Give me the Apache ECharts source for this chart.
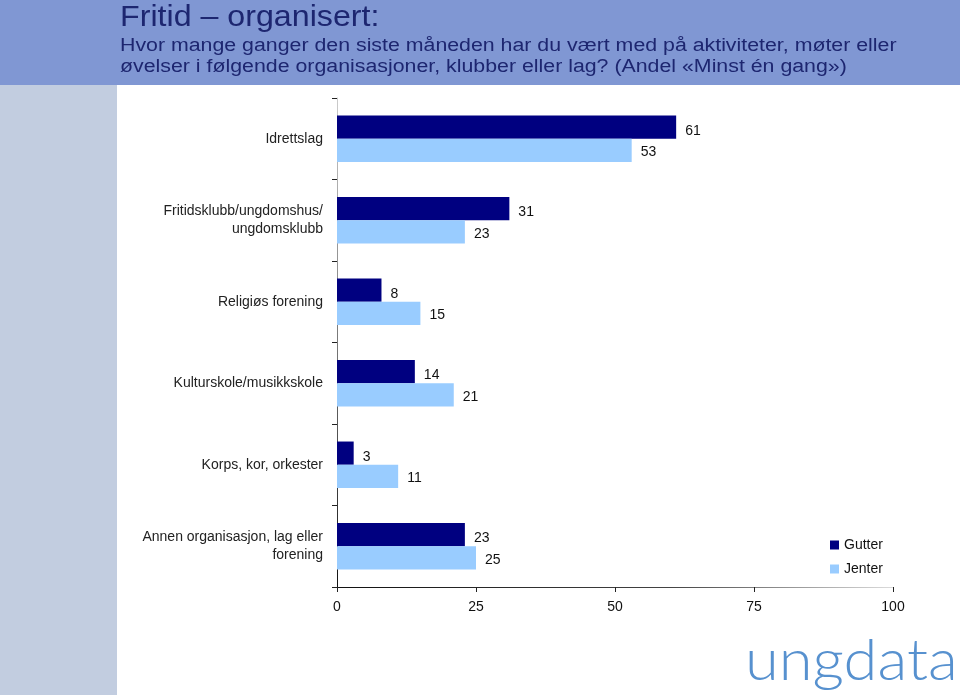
<!DOCTYPE html>
<html>
<head>
<meta charset="utf-8">
<script src="https://cdn.jsdelivr.net/npm/echarts@6/dist/echarts.min.js"></script>
<style>html,body{margin:0;padding:0;background:#fff}#c{width:960px;height:695px}</style>
</head>
<body>
<div id="c"></div>
<script>
const categories = ['Idrettslag', 'Fritidsklubb/ungdomshus/\nungdomsklubb', 'Religiøs forening', 'Kulturskole/musikkskole', 'Korps, kor, orkester', 'Annen organisasjon, lag eller\nforening'];
const gutter = [61, 31, 8, 14, 3, 23];
const jenter = [53, 23, 15, 21, 11, 25];
const xTicks = [0, 25, 50, 75, 100];

const FONT = 'Liberation Sans, Arial, sans-serif';
const chart = echarts.init(document.getElementById('c'));
chart.setOption({
  animation: false,
  backgroundColor: '#fff',
  graphic: [
    {type: 'rect', shape: {x: 0, y: 0, width: 960, height: 85}, style: {fill: '#8097d3'}, z: -10},
    {type: 'rect', shape: {x: 0, y: 85, width: 117, height: 610}, style: {fill: '#c2cde0'}, z: -10},
    {type: 'text', x: 120, y: 3, scaleX: 1.11, style: {text: 'Fritid – organisert:', fill: '#1d2670', font: '29px ' + FONT, verticalAlign: 'top'}},
    {type: 'text', x: 120, y: 36, scaleX: 1.185, style: {text: 'Hvor mange ganger den siste måneden har du vært med på aktiviteter, møter eller\nøvelser i følgende organisasjoner, klubber eller lag? (Andel «Minst én gang»)', fill: '#1d2670', lineHeight: 21, font: '18px ' + FONT, verticalAlign: 'top'}},
    {type: 'text', x: 745, y: 632, scaleX: 1.06, style: {text: 'ungdata', fill: '#5791cf', font: '300 58px Lato, "Open Sans", sans-serif', verticalAlign: 'top'}}
  ],
  legend: {
    orient: 'vertical', left: 825, top: 533, itemWidth: 9, itemHeight: 9, itemGap: 10, icon: 'rect',
    textStyle: {fontSize: 14, color: '#111', fontFamily: FONT},
    data: ['Gutter', 'Jenter']
  },
  grid: {left: 337, right: 67, top: 98, bottom: 108, containLabel: false},
  xAxis: {
    type: 'value', min: 0, max: 100, interval: 25,
    axisLine: {show: true, lineStyle: {width: 1, color: new echarts.graphic.LinearGradient(0, 0, 1, 0, [{offset: 0, color: '#111'}, {offset: 0.6, color: '#444'}, {offset: 1, color: '#ddd'}])}},
    axisTick: {show: true, length: 5, lineStyle: {color: '#222'}},
    splitLine: {show: false},
    axisLabel: {fontSize: 14, color: '#111', margin: 13, fontFamily: FONT,
      formatter: v => xTicks.includes(v) ? String(v) : ''}
  },
  yAxis: {
    type: 'category', inverse: true, data: categories,
    axisLine: {show: true, lineStyle: {width: 1, color: new echarts.graphic.LinearGradient(0, 0, 0, 1, [{offset: 0, color: '#ccc'}, {offset: 0.5, color: '#777'}, {offset: 1, color: '#111'}])}},
    axisTick: {show: true, length: 5, lineStyle: {color: '#222'}},
    axisLabel: {fontSize: 14, color: '#222', margin: 14, lineHeight: 18, align: 'right', fontFamily: FONT}
  },
  series: [
    {name: 'Gutter', type: 'bar', data: gutter, barGap: '0%', barCategoryGap: '43%',
     itemStyle: {color: '#000080'},
     label: {show: true, position: 'right', distance: 9, offset: [0, 4], fontSize: 14, color: '#111', fontFamily: FONT}},
    {name: 'Jenter', type: 'bar', data: jenter, barGap: '0%', barCategoryGap: '43%',
     itemStyle: {color: '#99ccff'},
     label: {show: true, position: 'right', distance: 9, offset: [0, 2], fontSize: 14, color: '#111', fontFamily: FONT}}
  ]
});
</script>
</body>
</html>
